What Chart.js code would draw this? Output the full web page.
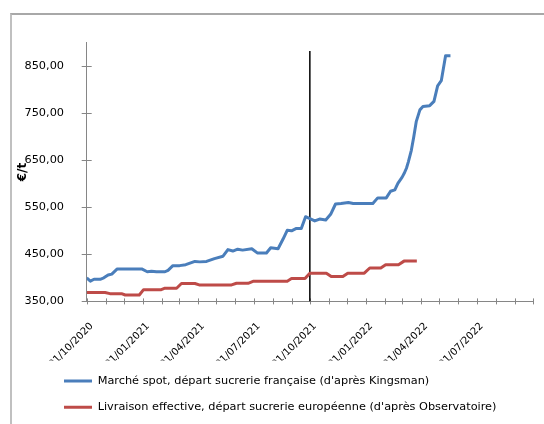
<!DOCTYPE html>
<html>
<head>
<meta charset="utf-8">
<script src="https://cdn.jsdelivr.net/npm/chart.js@4.4.1/dist/chart.umd.min.js"></script>
<style>
html, body { margin: 0; padding: 0; background: #ffffff; }
#wrap { position: relative; width: 544px; height: 424px; overflow: hidden; }
#frame { position: absolute; left: 10px; top: 13px; width: 700px; height: 600px;
         border-left: 2px solid #c0c0c0; border-top: 2px solid #a8a8a8; }
#c { position: absolute; left: 0; top: 0; }
</style>
</head>
<body>
<div id="wrap"><div id="frame"></div><canvas id="c" width="544" height="424"></canvas></div>
<script>
// ---- data ----
const seriesLabels = [
  "Marché spot, départ sucrerie française (d'après Kingsman)",
  "Livraison effective, départ sucrerie européenne (d'après Observatoire)"
];
const spotDates = [
  '2020-10-01','2020-10-07','2020-10-13','2020-10-23','2020-10-29','2020-11-05','2020-11-11','2020-11-20',
  '2020-12-30','2021-01-08','2021-01-15','2021-01-23','2021-02-06','2021-02-11','2021-02-19','2021-03-02',
  '2021-03-12','2021-03-27','2021-04-04','2021-04-15','2021-04-28','2021-05-12','2021-05-20','2021-05-28',
  '2021-06-05','2021-06-13','2021-06-28','2021-07-07','2021-07-22','2021-07-29','2021-08-10','2021-08-18',
  '2021-08-25','2021-09-01','2021-09-09','2021-09-17','2021-09-24','2021-10-01','2021-10-09','2021-10-17',
  '2021-10-27','2021-11-04','2021-11-12','2021-11-21','2021-12-03','2021-12-11','2022-01-12','2022-01-20',
  '2022-02-03','2022-02-10','2022-02-17','2022-02-22','2022-03-01','2022-03-05','2022-03-08','2022-03-11',
  '2022-03-16','2022-03-20','2022-03-24','2022-03-30','2022-04-04','2022-04-15','2022-04-22','2022-04-28',
  '2022-05-04','2022-05-11','2022-05-19'
];
const spotValues = [
  400, 393, 397, 397, 400, 406, 408, 419,
  419, 413, 414, 413, 413, 416, 426, 426,
  428, 435, 434, 435, 441, 446, 460, 457,
  461, 459, 462, 453, 453, 464, 462, 482,
  501, 500, 505, 505, 530, 526, 521, 525,
  523, 535, 557, 558, 560, 558, 558, 570,
  570, 584, 587, 601, 614, 624, 633, 646,
  671, 700, 732, 757, 764, 766, 775, 808,
  819, 872, 872
];
const deliveryDates = [
  '2020-10-01','2020-10-31','2020-11-08','2020-11-27','2020-12-03','2020-12-26','2021-01-02','2021-01-31',
  '2021-02-06','2021-02-25','2021-03-05','2021-03-27','2021-04-03','2021-05-26','2021-06-03','2021-06-22',
  '2021-07-01','2021-08-25','2021-09-01','2021-09-23','2021-10-01','2021-10-28','2021-11-05','2021-11-24',
  '2021-12-02','2021-12-29','2022-01-07','2022-01-25','2022-02-02','2022-02-23','2022-03-04','2022-03-25'
];
const deliveryValues = [
  369, 369, 366.5, 366.5, 363.6, 363.6, 375, 375,
  378, 378, 388, 388, 385, 385, 388.5, 388.5,
  393, 393, 398.5, 398.5, 410, 410, 403, 403,
  410, 410, 421, 421, 428, 428, 435.6, 435.6
];
const markerDate = '2021-10-01';
const markerValues = [350, 882];
const xTickLabels = ['01/10/2020','01/01/2021','01/04/2021','01/07/2021','01/10/2021','01/01/2022','01/04/2022','01/07/2022'];
const yTickValues = [350, 450, 550, 650, 750, 850];
const yMin = 350, yMax = 900;
const axisStart = '2020-10-01', axisEnd = '2022-10-01';

// ---- helpers ----
const FONT = 'DejaVu Sans';
const FS = 11.3;
const utc = s => Date.UTC(+s.slice(0, 4), +s.slice(5, 7) - 1, +s.slice(8, 10));
const day = s => (utc(s) - utc(axisStart)) / 86400000;
const labelDay = l => day(l.slice(6, 10) + '-' + l.slice(3, 5) + '-' + l.slice(0, 2));
const labelMap = {};
xTickLabels.forEach(l => { labelMap[labelDay(l)] = l; });
const monthTicks = [];
for (let m = 0; ; m++) {
  const d = (Date.UTC(2020, 9 + m, 1) - utc(axisStart)) / 86400000;
  if (d > day(axisEnd)) break;
  monthTicks.push(d);
}

const crossTicks = {
  id: 'crossTicks',
  beforeDatasetsDraw(chart) {
    const { ctx, scales: { x, y } } = chart;
    ctx.save();
    ctx.strokeStyle = '#868686';
    ctx.lineWidth = 1;
    x.ticks.forEach(t => {
      const px = Math.round(x.getPixelForValue(t.value)) + 0.5;
      ctx.beginPath(); ctx.moveTo(px, y.bottom - 3); ctx.lineTo(px, y.bottom + 3); ctx.stroke();
    });
    y.ticks.forEach(t => {
      const py = Math.round(y.getPixelForValue(t.value)) + 0.5;
      ctx.beginPath(); ctx.moveTo(x.left - 5, py); ctx.lineTo(x.left + 5, py); ctx.stroke();
    });
    ctx.restore();
  }
};
const legendShift = {
  id: 'legendShift',
  afterLayout(chart) {
    const lg = chart.legend;
    const dx = 64 - (lg.left + 15);
    lg.left += dx; lg.right += dx;
  }
};

new Chart(document.getElementById('c'), {
  type: 'line',
  data: {
    datasets: [
      { label: seriesLabels[0], data: spotDates.map((d, i) => ({ x: day(d), y: spotValues[i] })),
        borderColor: '#4A7EBB', backgroundColor: '#4A7EBB', borderWidth: 3, pointRadius: 0, tension: 0,
        borderJoinStyle: 'round' },
      { label: seriesLabels[1], data: deliveryDates.map((d, i) => ({ x: day(d), y: deliveryValues[i] })),
        borderColor: '#BE4B48', backgroundColor: '#BE4B48', borderWidth: 3, pointRadius: 0, tension: 0,
        borderJoinStyle: 'round' },
      { label: 'marker', data: markerValues.map(v => ({ x: day(markerDate), y: v })),
        borderColor: '#000000', borderWidth: 1.5, pointRadius: 0 }
    ]
  },
  options: {
    responsive: false,
    animation: false,
    layout: { padding: { left: 12, right: 11, top: 42.6, bottom: 1 } },
    plugins: {
      tooltip: { enabled: false },
      legend: {
        position: 'bottom', align: 'start',
        labels: {
          filter: item => item.datasetIndex < 2,
          usePointStyle: true, pointStyle: 'line', pointStyleWidth: 28,
          padding: 15, color: '#000000', font: { family: FONT, size: FS }
        }
      }
    },
    scales: {
      x: {
        type: 'linear', min: 0, max: day(axisEnd),
        afterBuildTicks: s => { s.ticks = monthTicks.map(v => ({ value: v })); },
        afterFit: s => { s.height = 59; s.paddingLeft = 0; s.paddingRight = 0; },
        ticks: { autoSkip: false, minRotation: 45, maxRotation: 45, padding: 11, labelOffset: 5,
                 callback: v => labelMap[v] || '', color: '#000000', font: { family: FONT, size: 10.1 } },
        grid: { display: false },
        border: { color: '#868686', width: 1 }
      },
      y: {
        min: yMin, max: yMax,
        afterBuildTicks: s => { s.ticks = yTickValues.map(v => ({ value: v })); },
        afterFit: s => { s.width = 74.7; s.paddingTop = 0; s.paddingBottom = 0; },
        ticks: { padding: 14.7, color: '#000000', font: { family: FONT, size: FS },
                 callback: v => v.toFixed(2).replace('.', ',') },
        grid: { display: false },
        border: { color: '#868686', width: 1 },
        title: { display: true, text: '€/t', color: '#000000', padding: { top: 4, bottom: 4 },
                 font: { family: FONT, size: 12, weight: 'bold' } }
      }
    }
  },
  plugins: [crossTicks, legendShift]
});
</script>
</body>
</html>
